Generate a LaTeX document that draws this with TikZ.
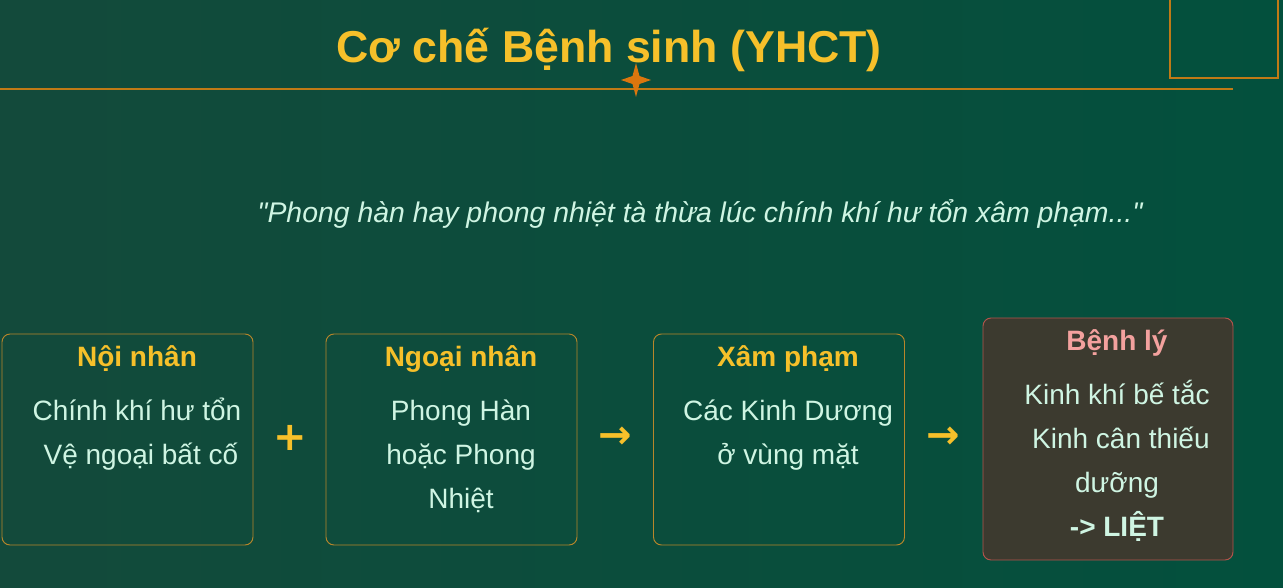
\documentclass[tikz,border=0pt]{standalone}
\usepackage{fontspec}
\setmainfont{Liberation Sans}
\newfontfamily\symfont{DejaVu Sans}
\usetikzlibrary{positioning}
\definecolor{bgleft}{HTML}{134A3B}
\definecolor{bgright}{HTML}{03503D}
\definecolor{gold}{HTML}{F6C02A}
\definecolor{rulecol}{HTML}{C07A16}
\definecolor{starcol}{HTML}{DB760E}
\definecolor{boxline}{HTML}{B8862A}
\definecolor{mint}{HTML}{CFF5E3}
\definecolor{rose}{HTML}{F3A19E}
\definecolor{sickfill}{HTML}{3C3A2F}
\definecolor{sickline}{HTML}{B4544C}
\begin{document}
\begin{tikzpicture}[x=0.75pt,y=-0.75pt,
    box/.style={draw=boxline,line width=0.7pt,rounded corners=6pt,minimum width=188.25pt,minimum height=158.25pt,inner sep=0pt},
    sickbox/.style={box,draw=sickline,fill=sickfill,minimum width=187.5pt,minimum height=181.5pt},
    head/.style={anchor=base,text=gold,font={\fontsize{21}{25}\selectfont\bfseries}},
    body/.style={anchor=base,text=mint,align=center,font={\fontsize{21}{33}\selectfont}},
    sym/.style={text=gold,inner sep=0pt,font={\symfont\bfseries\fontsize{30}{38}\selectfont}}]
  \shade[left color=bgleft,right color=bgright] (0,0) rectangle (1283,587);
  \useasboundingbox (0,0) rectangle (1283,587);
  \node[anchor=base,text=gold,font={\fontsize{33.5}{40}\selectfont\bfseries}] (title) at (609,62) {Cơ chế Bệnh sinh (YHCT)};
  \draw[rulecol,line width=0.8pt] (0,89) -- (1233,89);
  \fill[starcol] (636,63) -- (639.5,76) -- (651,80) -- (639.5,84) -- (636,97) -- (632.5,84) -- (621,80) -- (632.5,76) -- cycle;
  \draw[rulecol,line width=1.4pt] (1170,-2) -- (1170,78) -- (1278,78) -- (1278,-2);
  \node[anchor=base,text=mint,font={\fontsize{21.3}{24}\selectfont\itshape}] (quote) at (700,222) {\textquotedbl Phong hàn hay phong nhiệt tà thừa lúc chính khí hư tổn xâm phạm...\textquotedbl};

  \node[box] (noi) at (127.5,439.5) {};
  \node[box] (ngoai) at (451.5,439.5) {};
  \node[box] (xam) at (779,439.5) {};
  \node[sickbox] (benh) at (1108,439) {};

  % base = last line of each text
  \node[head] (noihead) at (137,366) {Nội nhân};
  \node[body] (noitext) at (137,464) {Chính khí hư tổn\\\hspace*{.28em}Vệ ngoại bất cố};
  \node[head] (ngoaihead) at (461,366) {Ngoại nhân};
  \node[body] (ngoaitext) at (461,508) {Phong Hàn\\hoặc Phong\\Nhiệt};
  \node[head] (xamhead) at (788,366) {Xâm phạm};
  \node[body] (xamtext) at (788,464) {Các Kinh Dương\\ở vùng mặt};
  \node[head,text=rose] (benhhead) at (1117,350) {Bệnh lý};
  \node[body] (benhtext) at (1117,536) {Kinh khí bế tắc\\\hspace*{.28em}Kinh cân thiếu\\dưỡng\\\textbf{-> LIỆT}};

  \node[sym] (plus) at (290,438) {+};
  \node[sym] (arrowa) at (615,438) {→};
  \node[sym] (arrowb) at (943,438) {→};
\end{tikzpicture}
\end{document}
